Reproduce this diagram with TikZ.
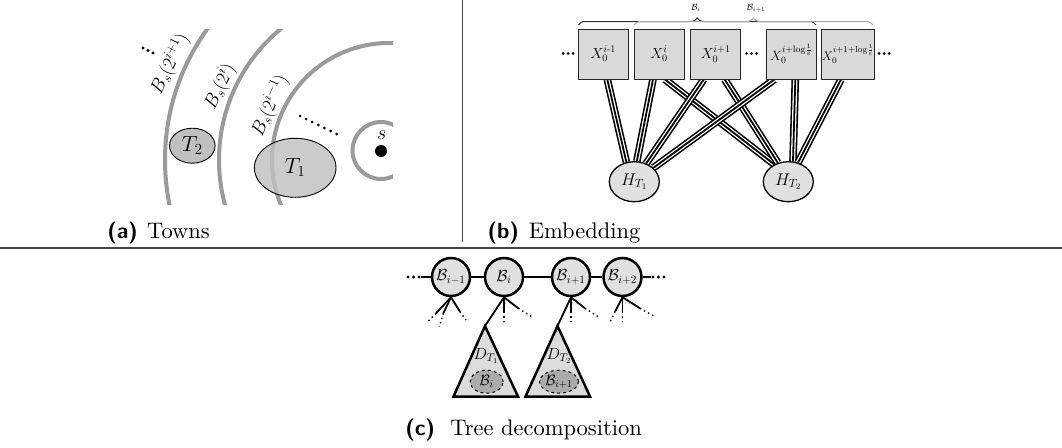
\RequirePackage{fix-cm}
\documentclass[tikz,border=0pt]{standalone}
\usepackage{amsmath}
\usetikzlibrary{shapes.geometric,decorations.pathreplacing,calc}
\pgfdeclarelayer{bg}
\pgfsetlayers{bg,main}
\newcommand\setfs[1]{\fontsize{#1}{#1}\selectfont}
\definecolor{arcgray}{HTML}{9A9A9A}
\definecolor{townfill}{HTML}{C0C0C0}
\definecolor{boxfill}{HTML}{D9D9D9}
\definecolor{hfill}{HTML}{E0E0E0}
\definecolor{trifill}{HTML}{DCDCDC}
\definecolor{innerfill}{HTML}{ABABAB}
\definecolor{rulegray}{HTML}{444444}
\begin{document}
\begin{tikzpicture}[x=1pt,y=-1pt,
  arcline/.style={draw=arcgray, line width=4pt},
  townT/.style={ellipse, draw=black, line width=0.9pt, fill=townfill, inner sep=0pt, font=\setfs{22}},
  xbox/.style={rectangle, draw=black!85, line width=1pt, fill=boxfill, minimum width=50pt, minimum height=50pt, inner sep=0pt, font=\setfs{14.5}},
  hnode/.style={ellipse, draw=black, line width=1.3pt, fill=hfill, minimum width=50pt, minimum height=40pt, inner sep=0pt, font=\setfs{17}},
  tripleedge/.style={line width=7.6pt, black, postaction={draw, white, line width=4.4pt}, postaction={draw, black, line width=1.8pt}},
  bnode/.style={circle, draw=black, line width=2.5pt, fill=hfill, minimum size=38pt, inner sep=0pt, font=\setfs{16}},
  chainline/.style={line width=1.6pt},
  fan/.style={line width=1.8pt},
  fandot/.style={line width=1.4pt, dash pattern=on 1.4pt off 3.2pt},
  tri/.style={draw=black, line width=2.5pt, fill=trifill, line join=miter},
  innerell/.style={ellipse, draw=black, dashed, line width=1pt, fill=innerfill, minimum width=33pt, minimum height=23pt, inner sep=0pt, font=\setfs{15}},
  capbold/.style={anchor=base west, font=\setfs{10}\sffamily\bfseries, inner sep=0pt, scale=2.2},
  captext/.style={anchor=base west, font=\setfs{10}, inner sep=0pt, scale=2.25},
  blab/.style={font=\setfs{19}, inner sep=0pt},
  dotc/.style={fill=black},
]
\useasboundingbox (0,0) rectangle (1062,447);

% separators
\draw[rulegray, line width=1pt] (462,0) -- (462,242);
\draw[rulegray, line width=2pt] (0,247.5) -- (1062,247.5);

% ---------------- panel (a) ----------------
\begin{scope}
  \clip (100,29) rectangle (393,204);
  \draw[arcline] (389,160) circle[radius=117pt];
  \draw[arcline] (389,160) circle[radius=170pt];
  \draw[arcline] (389,160) circle[radius=224pt];
  \draw[arcline] (381,150.5) circle[radius=28.5pt];
\end{scope}
\node[townT, minimum width=45.6pt, minimum height=35pt] (t2) at (192.3,145.7) {$T_2$};
\node[townT, minimum width=81.6pt, minimum height=59pt, fill opacity=0.82, text opacity=1] (t1) at (295.2,167.8) {$T_1$};
\node[blab, rotate=64] (lb1) at (170,64) {$B_s(2^{i+1})$};
\node[blab, rotate=64] (lb2) at (220,86.5) {$B_s(2^{i})$};
\node[blab, rotate=66] (lb3) at (270,105.5) {$B_s(2^{i-1})$};
\fill[dotc] (381,151) circle[radius=6pt];
\node[font=\setfs{20}, inner sep=0pt] (slab) at (381.7,135) {$s$};
\foreach \k in {0,1,2} \fill (143+5*\k,48+2.5*\k) circle[radius=1.6pt];
\foreach \k in {0,...,6} \fill (300+6.1*\k,116+3*\k) circle[radius=1.5pt];
\node[capbold] (capa) at (107,238) {(a)};
\node[captext] (capat) at (146.7,238) {Towns};

% ---------------- panel (b) ----------------
\node[xbox] (x0) at (603.3,54) {$X_0^{i\text{-}1}$};
\node[xbox] (x1) at (659,54) {$X_0^{i}$};
\node[xbox] (x2) at (715.7,54) {$X_0^{i+1}$};
\node[xbox, font=\setfs{13.5}] (x3) at (791.3,54) {$X_0^{i+\mathrm{log}\frac{1}{\varepsilon}}$};
\node[xbox, font=\setfs{12.5}] (x4) at (848,54) {$X_0^{i+1+\mathrm{log}\frac{1}{\varepsilon}}$};
\foreach \xx in {563,746.5,879} \foreach \k in {0,1,2} \fill (\xx+5*\k,53.5) circle[radius=1.5pt];
\draw[decorate, decoration={brace, amplitude=7pt}, line width=1pt, black!80] (578.3,25) -- (816,25);
\draw[decorate, decoration={brace, amplitude=7pt}, line width=1pt, black!35] (634,25) -- (873,25);
\node[font=\setfs{9}, inner sep=0pt] (bri) at (696,8) {$\mathcal{B}_i$};
\node[font=\setfs{9}, inner sep=0pt] (brj) at (756,8) {$\mathcal{B}_{i+1}$};
\node[hnode] (h1) at (634.3,181.7) {$H_{T_1}$};
\node[hnode] (h2) at (788.3,181.7) {$H_{T_2}$};
\begin{pgfonlayer}{bg}
\draw[tripleedge] ([xshift=4pt]x0.south) -- (h1.112);
\draw[tripleedge] ([xshift=-6pt]x1.south) -- (h1.83);
\draw[tripleedge] ([xshift=6pt]x1.south) -- (h2.129);
\draw[tripleedge] ([xshift=-12pt]x2.south) -- (h1.57);
\draw[tripleedge] ([xshift=9pt]x2.south) -- (h2.119);
\draw[tripleedge] ([xshift=-17pt]x3.south) -- (h1.36);
\draw[tripleedge] ([xshift=4pt]x3.south) -- (h2.77);
\draw[tripleedge] ([xshift=-7pt]x4.south) -- (h2.63);
\end{pgfonlayer}
\node[capbold] (capb) at (487.3,238) {(b)};
\node[captext] (capbt) at (528.3,238) {Embedding};

% ---------------- panel (c) ----------------
\node[bnode] (c0) at (451,277) {$\mathcal{B}_{i-1}$};
\node[bnode] (c1) at (504,277) {$\mathcal{B}_{i}$};
\node[bnode] (c2) at (571,277) {$\mathcal{B}_{i+1}$};
\node[bnode] (c3) at (622.5,277) {$\mathcal{B}_{i+2}$};
\coordinate (cl) at (421,277);
\coordinate (cr) at (651,277);
\begin{pgfonlayer}{bg}
\draw[chainline] (cl) -- (c0) -- (c1) -- (c2) -- (c3) -- (cr);
\end{pgfonlayer}
\foreach \k in {0,1,2} \fill (408+5.5*\k,277) circle[radius=1.6pt];
\foreach \k in {0,1,2} \fill (653+5.5*\k,277) circle[radius=1.6pt];
% triangles
\coordinate (d1) at (485,326);
\coordinate (d2) at (557.5,326);
\draw[tri] (d1) -- (453.5,396.5) -- (518,396.5) -- cycle;
\draw[tri] (d2) -- (525.5,396.5) -- (590,396.5) -- cycle;
\node[font=\setfs{16}, inner sep=0pt] (dl1) at (486,356) {$D_{T_1}$};
\node[font=\setfs{16}, inner sep=0pt] (dl2) at (559,356) {$D_{T_2}$};
\node[innerell] (e1) at (486.7,381.7) {$\mathcal{B}_i$};
\node[innerell] (e2) at (559,381.7) {$\mathcal{B}_{i+1}$};
% fans
\draw[fan] (c0.south) -- (436,313.3);  \draw[fandot] (436,313.3) -- (428.3,321);
\draw[fan] (c0.south) -- (443.3,313.3); \draw[fandot] (443.3,313.3) -- (439.3,327);
\draw[fan] (c0.south) -- (460,311.7);  \draw[fandot] (460,311.7) -- (466,320);
\draw[fan] (c1.south) -- (d1);
\draw[fan] (c1.south) -- (504,311.7); \draw[fandot] (504,311.7) -- (504,325);
\draw[fan] (c1.south) -- (518.3,308.3); \draw[fandot] (518.3,308.3) -- (531.7,316.7);
\draw[fan] (c2.south) -- (d2);
\draw[fan] (c2.south) -- (571,311.7); \draw[fandot] (571,311.7) -- (571,323.3);
\draw[fan] (c2.south) -- (585,308.3); \draw[fandot] (585,308.3) -- (598.3,316.7);
\draw[fan] (c3.south) -- (615,311.7); \draw[fandot] (615,311.7) -- (610,321.7);
\draw[fan] (c3.south) -- (622.5,311.7); \draw[fandot] (622.5,311.7) -- (622.5,323.3);
\draw[fan] (c3.south) -- (640,308.3); \draw[fandot] (640,308.3) -- (655,316.7);
\foreach \xx/\nm in {453/f0,510/f1,577/f2,630/f3} \node[font=\setfs{8}, inner sep=0pt] (\nm) at (\xx,304) {$\cdots$};
\node[capbold] (capc) at (405,435) {(c)};
\node[captext] (capct) at (450,435) {Tree decomposition};
\end{tikzpicture}
\end{document}
